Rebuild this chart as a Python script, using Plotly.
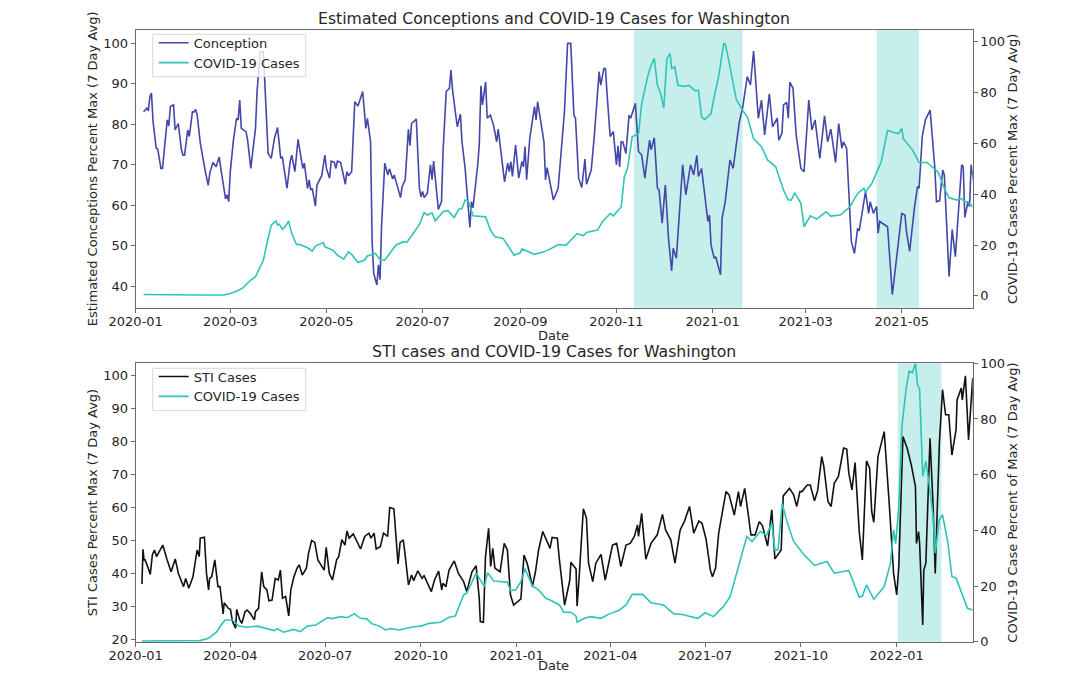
import pandas as pd
import plotly.graph_objects as go

START = pd.Timestamp("2020-01-01")

conception_days = [5,7,8,9,10,11,13,14,16,17,20,21,22,24,25,27,29,30,31,33,34,36,37,38,39,40,41,44,46,47,49,51,53,54,57,58,59,60,62,64,65,66,67,70,71,73,76,77,79,81,82,83,84,86,88,90,92,93,96,98,99,101,103,106,107,109,110,111,112,114,115,118,120,121,123,124,126,127,128,130,133,134,135,137,139,141,144,146,147,149,150,151,153,154,155,156,158,160,161,163,164,168,169,171,173,174,175,178,180,181,182,183,185,187,188,189,191,192,194,195,197,199,200,201,204,206,207,209,212,213,214,217,218,219,220,222,223,225,227,229,230,232,234,236,237,238,239,241,243,245,246,247,248,250,253,254,255,259,260,261,263,265,268,272,274,276,278,279,281,283,285,286,289,291,294,295,297,298,299,301,303,305,306,307,308,309,311,313,314,317,319,321,323,326,327,329,331,332,334,336,338,340,341,343,347,349,352,354,356,357,359,363,364,365,367,368,371,372,374,377,379,383,385,388,390,392,395,397,399,402,404,407,408,410,411,413,414,415,417,419,422,424,427,429,431,434,437,439,441,444,446,448,449,451,454,456,458,459,463,465,466,468,470,471,472,477,480,483,486,488,489,491,494,496,497,499,501,504,507,508,510,512,513,516,518,520,522,524,525,526,528,529,530,532]
conception_vals = [83.1,84,83.3,86.8,87.7,80.7,74.1,73.9,69.1,69.1,81.1,79.6,84.4,84.8,78.6,80.2,73.7,72.4,72.4,78.6,77,83.1,83,83.7,82.3,77.8,75.3,68.7,64.9,67.9,70.6,69.5,71.9,69.1,61.6,62.6,60.9,68.3,76.1,81.5,81.1,86,79,78.2,76.1,69.1,79,88.1,97.9,97.9,88.1,80.7,72.8,71.6,76.5,79.2,71.6,72,64.2,70.8,72.4,68.3,76.3,69.1,70.4,64.2,66.3,63.8,64.2,59.8,65,67.3,72.4,69.1,66.7,70.9,70.6,69.1,70.9,70.6,65.2,68.3,67.3,68.3,85.6,84.5,88.1,79,81.5,75.7,51,43.2,40.3,45.3,41.6,55.1,70.4,67.5,69,66.5,67.5,61.9,64.6,66.3,78.8,74.7,80.2,81.3,64.2,62.1,63.4,61.9,63,70,66.3,70.9,62.6,59,60.9,73.4,88.1,88.9,93.4,88.5,79.4,82.5,75.7,69.1,54.5,60.9,59.4,70,75.3,89.5,84.8,90.5,81.5,82.3,79.8,75.7,78.8,72.4,65.8,70.4,68.3,70.8,67.1,74.9,66.7,70.8,69.5,74.5,66.3,76.5,84.4,81.1,85.6,75.7,66.3,69.3,65,61.3,64.2,83.1,100,100,82.3,81.5,66.7,64.4,71.4,65.2,68.7,77.4,93,89.7,93.8,93.8,87.7,77,78.2,70,74.7,69.5,75.7,75.7,72.8,82.3,81.5,85.2,73.3,72.4,66.7,76.1,73.7,76.7,64.2,63.8,55.6,65,51.9,43.8,49.4,46.9,70,62.6,70,67.5,72.3,67.1,69.1,56,57.6,50.2,46.9,47.3,42.8,56.8,60.9,71.2,69.1,80.7,84,91.8,89.7,98.1,81.5,86,77.4,87.5,79.4,81.5,76.1,77.8,84.8,85.4,81.5,90.4,88.9,77.4,69.1,68.3,86,78.6,81.1,71.6,82.1,75.7,78.8,70.6,80.2,74.1,75.7,74.1,51,48.1,54.3,53.7,63.4,58,60.9,58,59.7,53.1,56,54.7,37.9,47.3,58,57.6,53.5,48.6,59.3,64.6,64.2,77,81.1,83.5,69.1,60.9,61.1,68.7,67.5,42.4,54,47.3,58.4,70,69.5,57,60.9,59.7,70,65]

covid_top_days = [5,20,40,56,60,64,68,73,76,78,81,83,86,89,90,91,93,95,97,99,102,104,109,112,114,119,120,125,128,132,135,137,141,145,147,152,155,158,162,165,170,172,176,180,183,185,188,190,195,198,202,205,207,209,211,214,222,225,228,233,236,240,244,245,250,253,259,263,268,273,276,280,284,286,293,296,301,303,308,310,312,315,319,321,325,327,329,331,333,335,337,339,340,342,344,348,351,355,357,359,361,365,367,370,373,374,376,381,385,388,392,397,401,406,411,414,416,418,422,424,428,432,438,441,447,453,458,462,463,467,473,477,481,484,486,487,493,497,502,509,513,516,521,524,526,528,531]
covid_top_vals = [0.5,0.3,0.3,0.3,0.9,1.8,3.1,6.2,7.5,10.1,14,20,27.8,29.5,27.8,28.2,26.2,27.4,29.5,24.5,20.2,20.3,18.9,17.6,19.6,21,19.3,18,16,14.4,17.3,16.3,13.1,14,15.7,16.7,14.3,14,17.3,19.9,21.3,21,24.5,28.1,32.8,31.8,32.7,29.5,33.1,33.6,30.8,34.1,34.4,37.7,37.3,31.5,31.1,25.9,23.2,22.6,19.9,16,16.9,18.4,17.1,16.3,17.3,18.4,20.2,19.9,21.9,24.5,23.6,24.9,25.9,29.1,32.4,31.5,35,46.9,50.1,62.6,63.9,75.7,86.9,90.8,93.4,82.9,79.7,74,93.4,95.4,89.5,90.2,82.9,82.5,82.9,80.7,81,70.5,69.4,71.8,78.3,86.9,99.3,99.3,93.4,77.4,73.1,70.5,61.9,58.7,53.4,50.8,41.6,37.7,37.7,40.6,36.4,27.2,31.5,30.2,33.1,31.4,31.8,35,40.3,42.3,40.9,44.2,52.8,65.2,64.3,63.9,65.9,61.9,57.3,52.5,52.5,48.8,42.3,38.6,37.7,38.3,37,37,35]

sti_days = [6,7,8,9,12,14,16,18,20,23,26,30,34,38,41,46,48,51,55,59,61,62,66,68,70,71,73,76,79,81,84,85,89,91,93,96,97,100,102,105,107,110,114,115,118,121,123,126,128,131,134,137,139,141,144,147,149,152,155,157,160,164,166,169,172,175,181,183,186,189,193,195,198,201,203,205,209,216,220,224,226,229,231,235,238,242,244,248,250,252,254,257,259,262,265,267,271,275,277,284,287,291,294,295,298,301,306,310,315,318,323,327,330,331,334,336,339,341,343,345,350,354,357,360,363,370,373,376,378,381,384,387,391,395,398,400,405,407,409,412,417,418,423,424,426,430,433,435,439,442,447,451,458,462,466,471,475,479,482,483,486,490,495,501,506,509,514,518,523,527,532,536,541,544,548,552,554,557,560,563,567,570,575,579,581,585,587,591,595,599,602,607,611,614,620,622,628,632,635,638,640,645,648,652,655,659,661,665,668,671,675,680,683,685,688,691,695,698,702,705,707,709,713,717,719,724,728,731,733,737,741,745,749,750,752,753,756,757,759,763,766,768,772,775,778,781,784,788,789,793,794,797,800,804,805]
sti_vals = [36.8,47.3,44.1,44.1,41.6,39.7,45.6,47.1,45.1,47.1,48.6,44.3,40.5,44.4,40,36,38.5,35.5,39,47.1,45.1,50.7,51,40,35,38.5,39,44.1,36,36,27.7,31.1,29.4,29.1,25.4,23.4,29.1,25.9,24.9,28.4,28.9,27.9,25.9,28.4,29.4,40.5,36,35,31.7,31.9,38.5,38,41,32.5,33,27.1,35,39,41.6,42.6,39.5,41.6,46.1,50,49.4,44.1,41,47.9,40,38,44.1,45.1,50.2,48.6,52.9,50.7,52,47.4,51.2,52.2,50.7,52.2,47.4,48.1,52.2,51.2,60,59.6,51.2,42.9,49.4,50.2,45.1,36.5,39.5,37.8,40.8,38.5,39.3,34.5,38,40.7,35,37,36,41,43.8,40,37.5,34.5,40.5,42.3,32.5,25.4,25.2,45.1,53.7,42.1,47.6,41.6,40.5,49.1,47.1,33.5,30.4,32.3,45.6,43.1,40.5,36,40.5,47.1,52.7,49.6,47.6,50.9,50.7,44.1,38.5,30.4,38,43.4,41.3,30.1,39,59.6,56.7,43.1,37.5,43.1,45.8,38,48.6,49.1,42.1,48.6,49.1,51.2,54.7,51.2,58.2,44.3,49.1,51.7,57.9,53.2,50.2,43.1,53.2,55.7,60.3,52.2,55.9,55.2,50.2,41,39,41.6,52.2,58.2,64.8,63.8,57.7,64.8,60.3,65.8,61.3,51.7,51.7,55.7,54.5,48.3,59.3,44.4,47.1,63.5,65.8,63.8,60.3,64.8,64.8,66.8,66.8,62,65,75.4,72.4,61.8,60.3,67.3,69.4,78,77.7,70.4,65.3,73.6,52.7,44.1,74.1,71.9,58.7,55.5,75.4,80.5,83,60.3,40,33.5,42.1,81.5,78,72.9,66.3,49.1,52.7,49.1,24.4,41,43.1,81,60.3,40,79.5,95.7,88.1,88.1,75.9,83.5,92.6,96.2,92.6,99.9,80.5,99.2,87.6]

covid_bot_days = [6,62,70,78,82,86,93,99,107,117,133,136,142,152,158,165,173,184,189,197,203,210,216,222,227,234,240,245,253,267,274,282,293,301,307,315,318,327,331,335,338,344,357,360,365,370,374,381,387,394,398,407,411,418,423,424,431,437,447,455,464,471,477,487,495,507,517,525,540,547,555,565,571,579,587,592,600,606,611,614,617,621,626,632,642,652,664,671,685,695,698,702,709,719,725,728,730,733,736,740,743,746,749,751,753,756,759,762,766,768,772,775,780,784,788,799,804]
covid_bot_vals = [0.2,0.4,1.2,3.6,6,7.8,7.8,5.6,5.2,5.6,4,4.7,3.4,4.4,3.6,5.6,6,8.6,8.3,9,8.6,10,8.4,8.2,6.4,5.6,4.2,4.7,4.2,5.4,5.6,6.6,7,8.8,9.2,16.8,17.4,24.6,22.2,19.8,24.8,21.8,21.4,18.4,18.6,21.6,26.2,20,18.6,15.6,15,13.2,10.6,10.6,9.2,7,8.4,9,8.4,10,11.2,13.2,17,17,14,13.2,10,9.8,8.4,10.4,9,12.8,16.2,27,37.8,36,39.6,38.2,42.6,33,33,49.6,42.6,36,31.2,27.4,28.8,24.6,25.6,16,16.4,20.4,15.2,19.8,28.2,40.2,35.2,48.6,77.4,90.6,97.2,96.6,100,92.4,90.6,59.4,64.8,57,45,31.8,43.8,45.6,36,23.4,22.8,12,11.4]

top_spans = [("2020-11-12", "2021-01-20"), ("2021-04-15", "2021-05-12")]
bottom_spans = [("2022-01-02", "2022-02-13")]

NAVY = "#4347A8"
TEAL = "#2EC4B6"
SHADE = "rgba(46,196,182,0.27)"
INK = "#262626"
FRAME = "#6a6a6a"
FONT = "DejaVu Sans"

def dates(days):
    return START + pd.to_timedelta(days, unit="D")

W, H = 1080, 675
fig = go.Figure()
fig.add_trace(go.Scatter(x=dates(conception_days), y=conception_vals, name="Conception", mode="lines",
                         line=dict(color=NAVY, width=1.6), xaxis="x", yaxis="y", legend="legend"))
fig.add_trace(go.Scatter(x=dates(covid_top_days), y=covid_top_vals, name="COVID-19 Cases", mode="lines",
                         line=dict(color=TEAL, width=1.6), xaxis="x", yaxis="y2", legend="legend"))
fig.add_trace(go.Scatter(x=dates(sti_days), y=sti_vals, name="STI Cases", mode="lines",
                         line=dict(color="#111111", width=1.6), xaxis="x2", yaxis="y3", legend="legend2"))
fig.add_trace(go.Scatter(x=dates(covid_bot_days), y=covid_bot_vals, name="COVID-19 Cases", mode="lines",
                         line=dict(color=TEAL, width=1.6), xaxis="x2", yaxis="y4", legend="legend2"))

shapes = []
for a, b in top_spans:
    shapes.append(dict(type="rect", xref="x", yref="paper", x0=a, x1=b, y0=1 - 307.7 / H, y1=1 - 30 / H,
                       fillcolor=SHADE, line_width=0, layer="below"))
for a, b in bottom_spans:
    shapes.append(dict(type="rect", xref="x2", yref="paper", x0=a, x1=b, y0=1 - 641.7 / H, y1=1 - 363.3 / H,
                       fillcolor=SHADE, line_width=0, layer="below"))
# compact legend boxes (plotly's own box is taller than the reference's)
for top, bottom in [(34.3, 76.7), (368.3, 410.7)]:
    shapes.append(dict(type="rect", xref="paper", yref="paper", x0=152.7 / W, x1=305.7 / W, y0=1 - bottom / H,
                       y1=1 - top / H, fillcolor="rgba(255,255,255,0.8)", line=dict(color="#d8d8d8", width=1),
                       layer="above"))

dom_x = [135.7 / W, 972.7 / W]
common = dict(showgrid=False, zeroline=False, showline=True, linecolor=FRAME, linewidth=1, ticks="outside",
              ticklen=4, tickcolor=FRAME, automargin=False, tickfont=dict(size=13, color=INK, family=FONT))
ax_title = lambda t, s: dict(text=t, font=dict(size=13, color=INK, family=FONT), standoff=s)

legend_common = dict(bgcolor="rgba(0,0,0,0)", borderwidth=0,
                     font=dict(size=13, color=INK, family=FONT), xanchor="left", yanchor="top",
                     tracegroupgap=0, itemclick=False)
title_font = dict(size=15.7, color=INK, family=FONT)
date_font = dict(size=13, color=INK, family=FONT)

fig.update_layout(
    width=W, height=H, autosize=False, paper_bgcolor="white", plot_bgcolor="white",
    margin=dict(l=0, r=0, t=0, b=0, autoexpand=False), showlegend=True, shapes=shapes,
    font=dict(family=FONT, color=INK),
    xaxis=dict(domain=dom_x, anchor="y", range=["2020-01-01", "2021-06-15"], dtick="M2", tick0="2020-01-01",
               tickformat="%Y-%m", ticklabelstandoff=-2, **common),
    yaxis=dict(domain=[1 - 307.7 / H, 1 - 30 / H], anchor="x", range=[34.7, 103.3], dtick=10, tick0=40,
               title=ax_title("Estimated Conceptions Percent Max (7 Day Avg)", 2), **common),
    yaxis2=dict(domain=[1 - 307.7 / H, 1 - 30 / H], anchor="x", overlaying="y", side="right", range=[-4.7, 104.7],
                dtick=20, tick0=0, title=ax_title("COVID-19 Cases Percent Max (7 Day Avg)", 2), **common),
    xaxis2=dict(domain=dom_x, anchor="y3", range=["2020-01-01", "2022-03-15"], dtick="M3", tick0="2020-01-01",
                tickformat="%Y-%m", ticklabelstandoff=-2, **common),
    yaxis3=dict(domain=[1 - 641.7 / H, 1 - 363.3 / H], anchor="x2", range=[19.3, 103.7], dtick=10, tick0=20,
                title=ax_title("STI Cases Percent Max (7 Day Avg)", 2), **common),
    yaxis4=dict(domain=[1 - 641.7 / H, 1 - 363.3 / H], anchor="x2", overlaying="y3", side="right", range=[0, 100],
                dtick=20, tick0=0, title=ax_title("COVID-19 Case Percent of Max (7 Day Avg)", 2), **common),
    legend=dict(x=153.7 / W, y=1 - 27.8 / H, **legend_common),
    legend2=dict(x=153.7 / W, y=1 - 361.5 / H, **legend_common),
    annotations=[
        dict(text="Estimated Conceptions and COVID-19 Cases for Washington", x=553.5 / W, y=1 - 19 / H,
             xref="paper", yref="paper", yanchor="middle", showarrow=False, font=title_font),
        dict(text="STI cases and COVID-19 Cases for Washington", x=553.5 / W, y=1 - 352 / H,
             xref="paper", yref="paper", yanchor="middle", showarrow=False, font=title_font),
        dict(text="Date", x=553.5 / W, y=1 - 335.5 / H,
             xref="paper", yref="paper", yanchor="middle", showarrow=False, font=date_font),
        dict(text="Date", x=553.5 / W, y=1 - 665 / H,
             xref="paper", yref="paper", yanchor="middle", showarrow=False, font=date_font),
    ],
)
# close the frame along the top edge of each panel
fig.update_xaxes(mirror=True)
fig.write_html("out.html", config={"displayModeBar": False},
               post_script="document.body.style.margin='0';document.documentElement.style.overflow='hidden';")
